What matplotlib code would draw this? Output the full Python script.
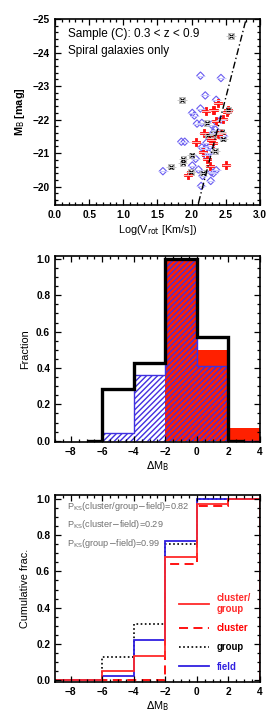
import numpy as np
import matplotlib.pyplot as plt
from matplotlib.ticker import MultipleLocator

plt.rcParams['font.family'] = ['Liberation Sans', 'DejaVu Sans']
plt.rcParams['hatch.linewidth'] = 1.0

# --- panel 1: Tully-Fisher data (log Vrot, M_B) ---
field_logv = [2.13, 2.43, 2.20, 2.36, 2.13, 2.01, 2.04, 2.08, 2.15, 2.29, 2.32, 2.35,
              1.85, 1.90, 2.22, 2.27, 2.15, 2.20, 2.21, 2.06, 2.10, 1.58, 2.29, 2.36,
              2.16, 2.28, 2.14, 2.43, 2.01, 2.32, 2.47, 2.25]
field_mb = [-23.31, -23.24, -22.72, -22.59, -22.33, -22.20, -22.12, -21.88, -21.90, -21.85,
            -21.61, -21.70, -21.34, -21.34, -21.31, -21.21, -21.17, -21.13, -20.93, -20.83,
            -20.51, -20.46, -20.43, -20.49, -20.32, -20.17, -20.02, -22.00, -20.63, -20.40,
            -21.50, -21.00]
cluster_logv = [2.38, 2.31, 2.33, 2.21, 2.52, 2.54, 2.46, 2.36, 2.18, 2.38, 2.43, 2.06,
                2.29, 2.31, 2.16, 2.22, 2.27, 2.51, 1.95, 2.30]
cluster_mb = [-22.48, -22.30, -22.28, -22.25, -22.22, -22.28, -22.02, -21.95, -21.61, -21.57,
              -21.61, -21.33, -21.39, -21.29, -21.03, -20.81, -20.63, -20.65, -20.35, -21.45]
group_logv = [2.58, 1.86, 2.54, 2.22, 2.24, 2.46, 2.34, 2.00, 1.88, 1.87, 1.70, 1.99,
              2.17, 2.32, 2.44]
group_mb = [-24.50, -22.58, -22.28, -21.90, -21.53, -21.43, -21.06, -20.93, -20.83, -20.69,
            -20.60, -20.43, -20.40, -21.57, -21.64]
err_logv = 0.07
tf_slope, tf_zero = -7.86, -3.0

# --- panel 2: histograms of Delta M_B ---
hist_edges = [-6, -4, -2, 0, 2, 4]
hist_field = [0.045, 0.364, 1.0, 0.41, 0.0]
hist_cluster = [0.0, 0.0, 1.0, 0.50, 0.07]
group_edges = [-7, -6, -4, -2, 0, 2, 3]
hist_group = [0.0, 0.286, 0.43, 1.0, 0.57, 0.0]

# --- panel 3: cumulative fractions ---
cum_edges = [-9, -6, -4, -2, 0, 2, 4]
cum_clgr = [0.0, 0.05, 0.13, 0.68, 0.97, 1.0]
cum_cluster = [0.0, 0.0, 0.0, 0.64, 0.96, 1.0]
cum_group = [0.0, 0.125, 0.31, 0.75, 1.0, 1.0]
cum_field = [0.0, 0.02, 0.22, 0.77, 1.0, 1.0]
pks_text = ['P$_{\\rm KS}$(cluster/group$-$field)=0.82',
            'P$_{\\rm KS}$(cluster$-$field)=0.29',
            'P$_{\\rm KS}$(group$-$field)=0.99']

fig = plt.figure(figsize=(2.75, 7.17), dpi=100)
ax1 = fig.add_axes([0.2, 0.714, 0.745, 0.2595])
ax2 = fig.add_axes([0.2, 0.3835, 0.745, 0.26])
ax3 = fig.add_axes([0.2, 0.0488, 0.745, 0.2608])

def style(ax, xmin, ymin):
    ax.tick_params(which='both', direction='in', top=True, right=True, labelsize=7.3,
                   width=0.9)
    ax.tick_params(which='major', length=4)
    ax.tick_params(which='minor', length=2)
    ax.xaxis.set_minor_locator(MultipleLocator(xmin))
    ax.yaxis.set_minor_locator(MultipleLocator(ymin))
    for s in ax.spines.values():
        s.set_linewidth(1.2)
    for lab in ax.get_xticklabels() + ax.get_yticklabels():
        lab.set_fontweight('bold')

# panel 1
ax1.errorbar(field_logv, field_mb, xerr=err_logv, fmt='none', ecolor='#c8c8ff', elinewidth=0.7)
ax1.errorbar(cluster_logv, cluster_mb, xerr=err_logv, fmt='none', ecolor='#ffc0c0', elinewidth=0.7)
ax1.errorbar(group_logv, group_mb, xerr=err_logv, fmt='none', ecolor='#c8c8c8', elinewidth=0.7)
ax1.scatter(field_logv, field_mb, marker='D', s=14, facecolors='none', edgecolors='#6a5cf0', linewidths=0.8)
ax1.scatter(cluster_logv, cluster_mb, marker='P', s=26, facecolors='#ff1010',
            edgecolors='#ff1010', linewidths=0.6)
ax1.scatter(group_logv, group_mb, marker='s', s=16, facecolors='none', edgecolors='#b0b0b0', linewidths=0.6)
ax1.scatter(group_logv, group_mb, marker='x', s=9, color='black', linewidths=0.9)
lv = np.array([2.05, 2.85])
ax1.plot(lv, tf_slope * lv + tf_zero, color='black', ls=(0, (5, 2, 1, 2)), lw=1.0)
ax1.text(0.19, -24.55, 'Sample (C): 0.3 < z < 0.9', fontsize=8.5, va='center')
ax1.text(0.19, -24.05, 'Spiral galaxies only', fontsize=8.5, va='center')
ax1.set_xlim(0, 3.0)
ax1.set_ylim(-19.45, -25)
ax1.set_xticks(np.arange(0, 3.01, 0.5))
ax1.set_yticks([-20, -21, -22, -23, -24, -25])
ax1.set_xlabel('Log(V$_{\\rm rot}$ [Km/s])', fontsize=7.8, labelpad=2)
ax1.set_ylabel('M$_{\\rm B}$ [mag]', fontsize=7.8, fontweight='bold')
style(ax1, 0.1, 0.2)

# panel 2
ax2.stairs(hist_cluster, hist_edges, fill=True, color='#ff2000', lw=0)
ax2.stairs(hist_field, hist_edges, fill=True, facecolor='none', edgecolor='#4030e0',
           hatch='//////', lw=1.0)
ax2.stairs(hist_group, group_edges, color='black', lw=2.4)
ax2.set_xlim(-9, 4)
ax2.set_ylim(-0.007, 1.018)
ax2.set_xticks(np.arange(-8, 4.1, 2))
ax2.set_yticks(np.arange(0, 1.01, 0.2))
ax2.set_xlabel('$\\Delta$M$_{\\rm B}$', fontsize=7.8, labelpad=2)
ax2.set_ylabel('Fraction', fontsize=7.8)
style(ax2, 0.5, 0.05)

# panel 3
ax3.stairs(cum_cluster, cum_edges, color='red', ls=(0, (5, 3)), lw=1.3, label='cluster')
ax3.stairs(cum_group, cum_edges, color='black', ls=(0, (1, 1.5)), lw=1.2, label='group')
ax3.stairs(cum_field, cum_edges, color='#3020e0', lw=1.3, label='field')
ax3.stairs(cum_clgr, cum_edges, color='#ff2a2a', lw=1.3, label='cluster/\ngroup')
for i, t in enumerate(pks_text):
    ax3.text(0.06, 0.94 - i * 0.1, t, transform=ax3.transAxes, fontsize=6.6,
             color='#707070', va='center')
h, l = ax3.get_legend_handles_labels()
order = [3, 0, 1, 2]
leg = ax3.legend([h[i] for i in order], [l[i] for i in order], loc='lower right',
                 frameon=False, fontsize=6.9, handlelength=3.2, labelspacing=0.95,
                 handletextpad=0.8, bbox_to_anchor=(1.0, 0.01), labelcolor='linecolor')
for t in leg.get_texts():
    t.set_fontweight('bold')
ax3.set_xlim(-9, 4)
ax3.set_ylim(-0.011, 1.022)
ax3.set_xticks(np.arange(-8, 4.1, 2))
ax3.set_yticks(np.arange(0, 1.01, 0.2))
ax3.set_xlabel('$\\Delta$M$_{\\rm B}$', fontsize=7.8, labelpad=2)
ax3.set_ylabel('Cumulative frac.', fontsize=7.8)
style(ax3, 0.5, 0.05)

fig.savefig('out.png', dpi=100)
